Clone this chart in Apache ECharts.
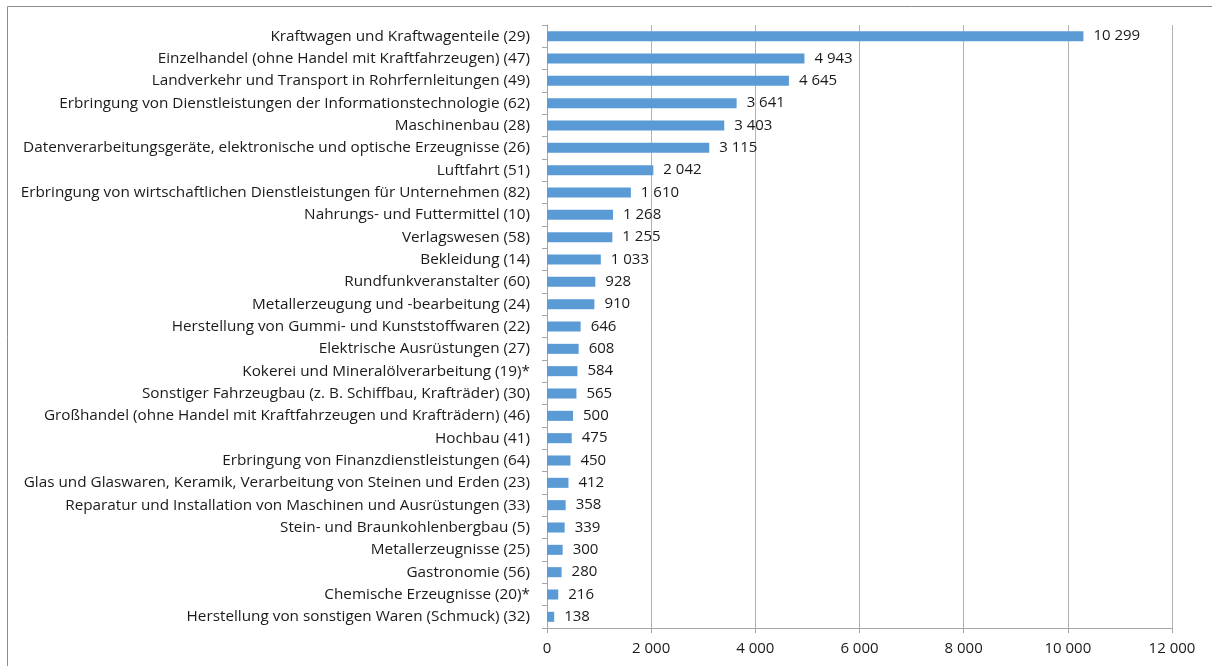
<!DOCTYPE html>
<html>
<head>
<meta charset="utf-8">
<script src="https://cdn.jsdelivr.net/npm/echarts@6/dist/echarts.min.js"></script>
<style>
  html, body { margin: 0; padding: 0; background: #fff; }
  #chart { width: 1212px; height: 666px; }
</style>
</head>
<body>
<div id="chart"></div>
<script>
// Branchen (WZ-Nummer) und Werte, von oben nach unten
var branchen = [
  'Kraftwagen und Kraftwagenteile (29)',
  'Einzelhandel (ohne Handel mit Kraftfahrzeugen) (47)',
  'Landverkehr und Transport in Rohrfernleitungen (49)',
  'Erbringung von Dienstleistungen der Informationstechnologie (62)',
  'Maschinenbau (28)',
  'Datenverarbeitungsgeräte, elektronische und optische Erzeugnisse (26)',
  'Luftfahrt (51)',
  'Erbringung von wirtschaftlichen Dienstleistungen für Unternehmen (82)',
  'Nahrungs- und Futtermittel (10)',
  'Verlagswesen (58)',
  'Bekleidung (14)',
  'Rundfunkveranstalter (60)',
  'Metallerzeugung und -bearbeitung (24)',
  'Herstellung von Gummi- und Kunststoffwaren (22)',
  'Elektrische Ausrüstungen (27)',
  'Kokerei und Mineralölverarbeitung (19)*',
  'Sonstiger Fahrzeugbau (z. B. Schiffbau, Krafträder) (30)',
  'Großhandel (ohne Handel mit Kraftfahrzeugen und Krafträdern) (46)',
  'Hochbau (41)',
  'Erbringung von Finanzdienstleistungen (64)',
  'Glas und Glaswaren, Keramik, Verarbeitung von Steinen und Erden (23)',
  'Reparatur und Installation von Maschinen und Ausrüstungen (33)',
  'Stein- und Braunkohlenbergbau (5)',
  'Metallerzeugnisse (25)',
  'Gastronomie (56)',
  'Chemische Erzeugnisse (20)*',
  'Herstellung von sonstigen Waren (Schmuck) (32)'
];
var werte = [10299, 4943, 4645, 3641, 3403, 3115, 2042, 1610, 1268, 1255, 1033, 928, 910,
  646, 608, 584, 565, 500, 475, 450, 412, 358, 339, 300, 280, 216, 138];

function tausender(v) {
  return String(v).replace(/\B(?=(\d{3})+(?!\d))/g, ' ');
}

var font = 'Open Sans';
var chart = echarts.init(document.getElementById('chart'));
chart.setOption({
  animation: false,
  graphic: [{
    type: 'rect',
    shape: { x: 7.5, y: 6.5, width: 1220, height: 700 },
    style: { fill: 'none', stroke: '#8c8c8c', lineWidth: 1 },
    silent: true
  }],
  grid: { left: 547, right: 40, top: 25, bottom: 38 },
  xAxis: {
    type: 'value',
    min: 0,
    max: 12000,
    interval: 2000,
    axisLine: { show: true, lineStyle: { color: '#a6a6a6' } },
    axisTick: { show: true, length: 5, lineStyle: { color: '#a6a6a6' } },
    splitLine: { show: true, lineStyle: { color: '#b3b3b3' } },
    axisLabel: {
      margin: 13,
      color: '#1a1a1a',
      fontFamily: font,
      fontSize: 15,
      formatter: tausender
    }
  },
  yAxis: {
    type: 'category',
    inverse: true,
    data: branchen,
    axisLine: { show: true, lineStyle: { color: '#a6a6a6' } },
    axisTick: { show: true, length: 5, lineStyle: { color: '#a6a6a6' } },
    axisLabel: {
      margin: 17,
      color: '#1a1a1a',
      fontFamily: font,
      fontSize: 15.3
    }
  },
  series: [{
    type: 'bar',
    data: werte,
    barWidth: '45%',
    itemStyle: { color: '#5b9bd5' },
    label: {
      show: true,
      position: 'right',
      distance: 10,
      color: '#1a1a1a',
      fontFamily: font,
      fontSize: 15,
      formatter: function (p) { return tausender(p.value); }
    }
  }]
});
</script>
</body>
</html>
